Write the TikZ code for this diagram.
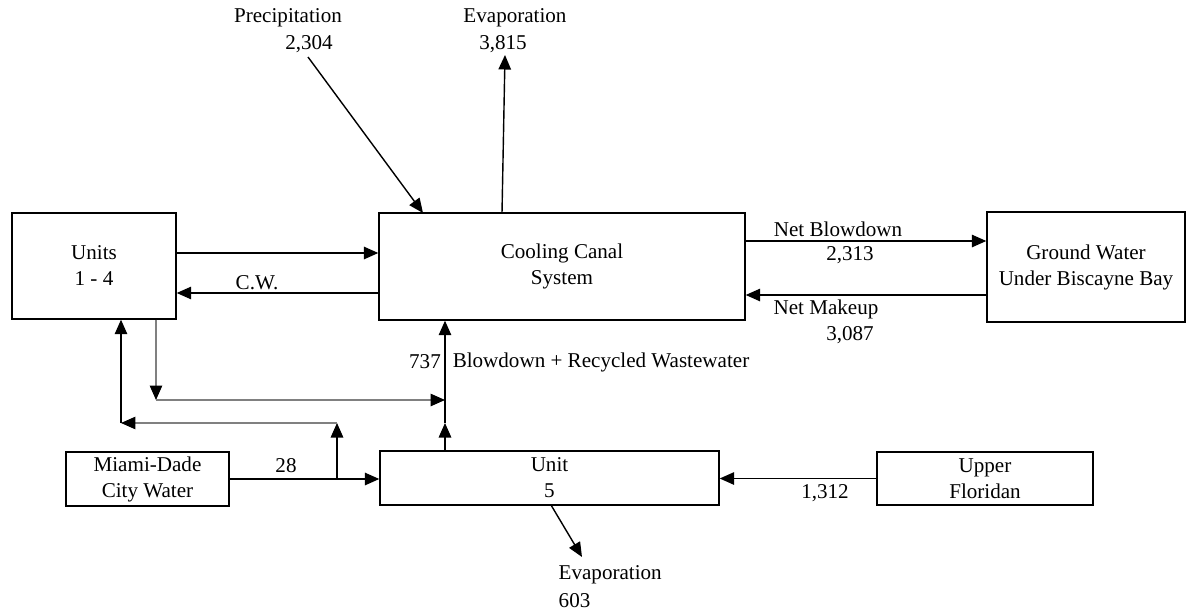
\documentclass[tikz,border=0pt]{standalone}
\usepackage{fontspec}
\setmainfont{Liberation Serif}
\usepackage{tikz}
\usetikzlibrary{positioning,arrows.meta}

\newcommand{\flowfont}{\fontsize{12}{14.8}\selectfont}

\begin{document}
\begin{tikzpicture}[
			x=0.02cm, y=-0.02cm,
			>={Triangle[length=2.9mm,width=2.5mm]},
			line width=0.8pt,
			box/.style={draw, align=center, font=\flowfont, inner sep=0pt},
			lbl/.style={font=\flowfont, align=center, inner sep=0pt},
			garrow/.style={draw=black!50, -{Triangle[length=2.9mm,width=2.5mm,color=black]}}
			]
			\useasboundingbox (0,0) rectangle (1187,612);
			
			\node[box, minimum width=3.28cm, minimum height=2.12cm] (units) at (94,266) {Units\\1 - 4};
			\node[box, minimum width=7.32cm, minimum height=2.14cm] (canal) at (562,266.5) {Cooling Canal\\System};
			\node[box, minimum width=3.96cm, minimum height=2.2cm] (ground) at (1086,267) {Ground Water\\Under Biscayne Bay};
			\node[box, minimum width=3.26cm, minimum height=1.08cm] (miami) at (147.5,479) {Miami-Dade\\City Water};
			\node[box, minimum width=6.78cm, minimum height=1.08cm] (unit5) at (549.5,478) {Unit\\5};
			\node[box, minimum width=4.32cm, minimum height=1.06cm] (floridan) at (985,478.5) {Upper\\Floridan};
			
			\node[lbl] (prec) at (288,18) {Precipitation};
			\node[lbl] (precval) at (309,44) {2,304};
			\node[lbl] (evap) at (515,18) {Evaporation};
			\node[lbl] (evapval) at (503,44) {3,815};
			\node[lbl] (cw) at (257,283) {C.W.};
			\node[lbl] (netbd) at (838,229) {Net Blowdown};
			\node[lbl] (netbdval) at (850,255) {2,313};
			\node[lbl] (netmk) at (826,309) {Net Makeup};
			\node[lbl] (netmkval) at (850,335) {3,087};
			\node[lbl] (bdval) at (425,362) {737};
			\node[lbl] (bd) at (601,362) {Blowdown + Recycled Wastewater};
			\node[lbl] (cityval) at (286,466) {28};
			\node[lbl] (florval) at (825,493) {1,312};
			\node[lbl, anchor=west] (evap5) at (558,575) {Evaporation};
			\node[lbl, anchor=west] (evap5val) at (558,601) {603};
			
			\coordinate (precstart) at (308,57);
			\coordinate (evapend) at (505,55);
			\coordinate (dn) at (156,400);
			\coordinate (mix) at (445,400);
			\coordinate (rise) at (445,423);
			\coordinate (tap) at (337,479);
			\coordinate (tapup) at (337,423);
			\coordinate (back) at (121,423);
			\coordinate (evap5end) at (582,557);
			
			% canal loop
			\path[->] (units.east |- 0,253) edge (canal.west |- 0,253);
			\path[->] (canal.west |- 0,293) edge (units.east |- 0,293);
			\path[->] (precstart) edge (423,213);
			\path[->] (502,213) edge (evapend);
			\path[->] (canal.east |- 0,241) edge (ground.west |- 0,241);
			\path[->] (ground.west |- 0,295) edge (canal.east |- 0,295);
			
			% unit 5 and make-up water
			\path[->] (miami.east) edge (unit5.west |- miami.east);
			\path[->] (floridan.west) edge (unit5.east |- floridan.west);
			\path[->] (unit5.north -| rise) edge (rise);
			\path[->] (rise) edge (canal.south -| rise);
			\path[->] (tap) edge (tapup);
			\path[->] (551,505) edge (evap5end);
			
			% units 1-4 return lines
			\path (units.south -| dn) edge[garrow] (dn);
			\path (dn) edge[garrow] (mix);
			\path (tapup) edge[garrow] (back);
			\path[->] (back) edge (units.south -| back);
		\end{tikzpicture}
\end{document}
